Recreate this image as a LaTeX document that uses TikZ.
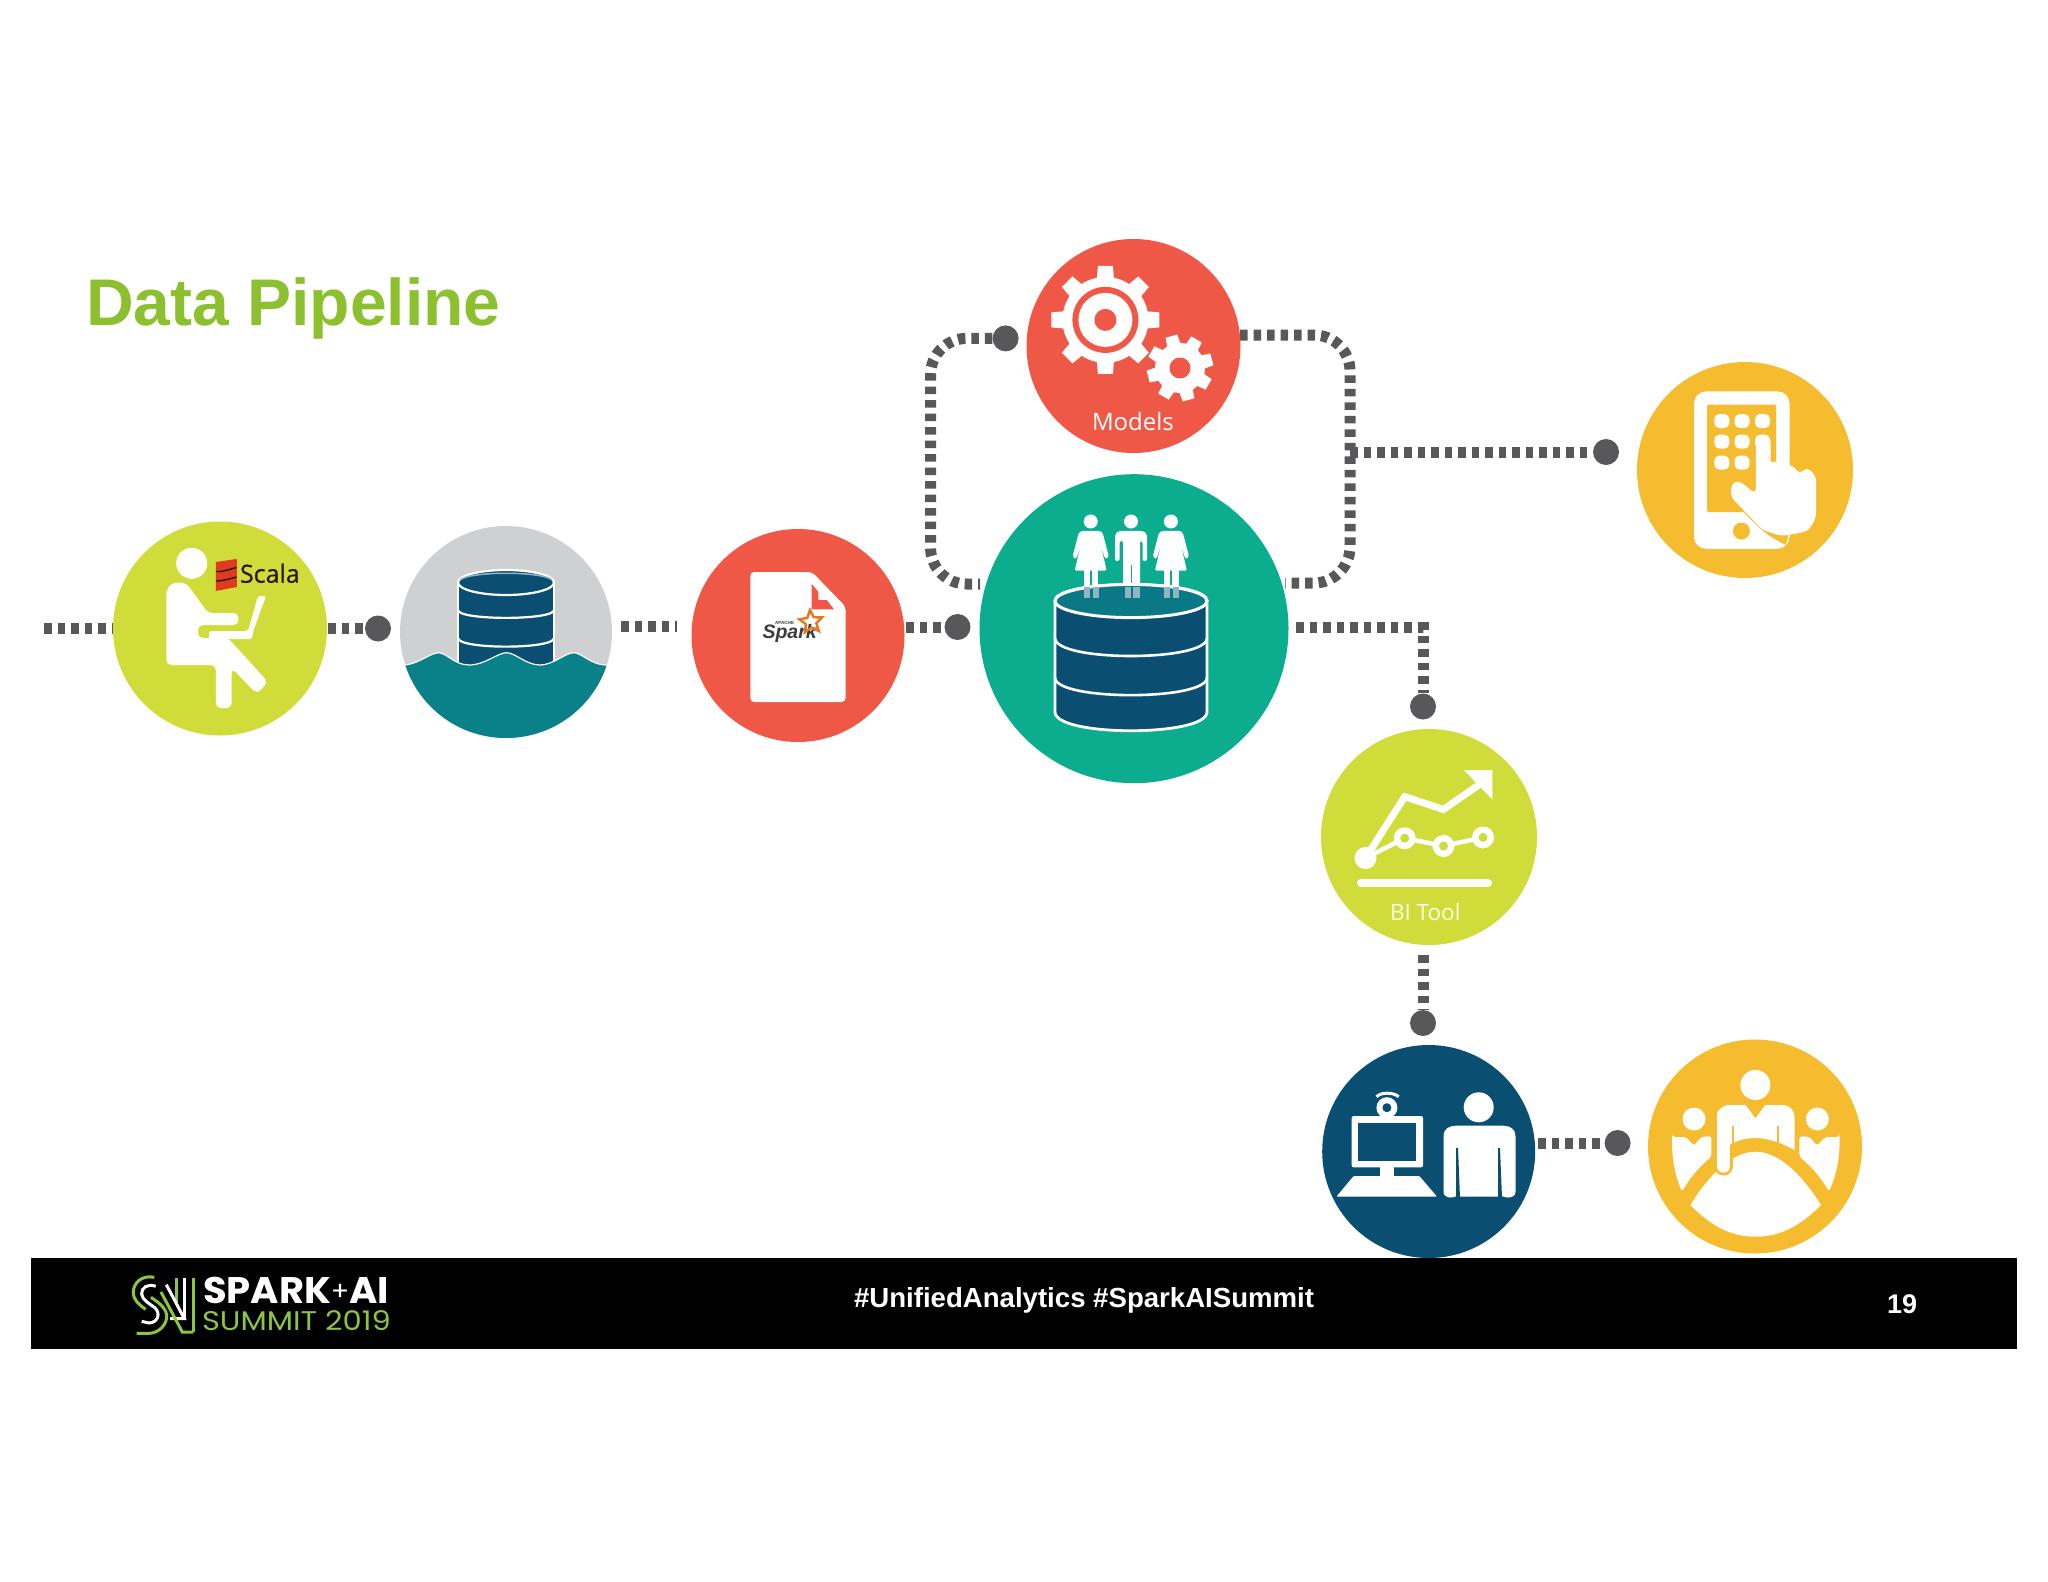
\documentclass[tikz,border=0pt]{standalone}
\usepackage{fontspec}
\setmainfont{Liberation Sans}
\newfontfamily\opensans{Open Sans}
\newfontfamily\opensansb[FakeBold=0.5]{Open Sans}
\newfontfamily\poppinsf{Poppins}
\usetikzlibrary{backgrounds}
\definecolor{lime}{HTML}{D0DC3A}
\definecolor{lakegray}{HTML}{CFD0D2}
\definecolor{water}{HTML}{0A8088}
\definecolor{redc}{HTML}{EF5847}
\definecolor{greenc}{HTML}{0CAC8E}
\definecolor{navy}{HTML}{0A4F71}
\definecolor{yellowc}{HTML}{F5BC2F}
\definecolor{linec}{HTML}{58585A}
\definecolor{titlec}{HTML}{8CC02F}
\definecolor{logog}{HTML}{8CC63F}
\definecolor{palelegs}{HTML}{8FB4C4}
\definecolor{scalared}{HTML}{DE3B20}
\definecolor{scaladark}{HTML}{2B1408}
\definecolor{sparkgray}{HTML}{3C3C3E}
\definecolor{sparkorange}{HTML}{E8761C}
\tikzset{
  bubble/.style={circle,inner sep=0pt,minimum size=#1,draw=none},
  dot/.style={circle,inner sep=0pt,minimum size=26pt,fill=linec,draw=none},
  dotline/.style={draw=linec,line width=11pt,dash pattern=on 7.5pt off 6pt},
  lab/.style={inner sep=0pt,outer sep=0pt,anchor=base west},
}
\newcommand{\mygear}[7]{%
  \begin{scope}[shift={(#1,#2)}]
    \fill[white] (0,0) circle[radius=#4];
    \foreach \a in {0,45,...,315}{
      \fill[white,rotate=\a+#6] ({-#5/2*1.15},#4-2) -- ({-#5/2},#3) -- ({#5/2},#3) -- ({#5/2*1.15},#4-2) -- cycle;
    }
  \end{scope}}
\newcommand{\womanfig}[1]{%
  \begin{scope}[shift={(#1,0)}]
    \fill[white] (0,521.5) circle[radius=7];
    \fill[white,rounded corners=1.5pt] (-9,530.8) -- (9,530.8) -- (12,533) -- (18,556) -- (16,559) -- (14,558) -- (9.5,543) -- (16,570.7) -- (-16,570.7) -- (-9.5,543) -- (-14,558) -- (-16,559) -- (-18,556) -- (-12,533) -- cycle;
    \fill[white] (-6.8,570) rectangle (-1,588);
    \fill[white] (1.5,570) rectangle (7.6,588);
  \end{scope}}
\newcommand{\manfig}[1]{%
  \begin{scope}[shift={(#1,0)}]
    \fill[white] (0,521.5) circle[radius=7];
    \fill[white,rounded corners=2pt] (-12,530.8) -- (12,530.8) -- (16,534) -- (16,561) -- (11.5,561) -- (11.5,541) -- (9,541) -- (9,588) -- (-8,588) -- (-8,541) -- (-11.5,541) -- (-11.5,561) -- (-16,561) -- (-16,534) -- cycle;
    \fill[greenc] (-0.5,565) rectangle (1,588);
  \end{scope}}
\begin{document}
\begin{tikzpicture}[x=1pt,y=-1pt]
\useasboundingbox (0,0) rectangle (2048,1582);

% ---- bubbles
\node[bubble=214pt,fill=lime]     (scala)  at (220,628.5) {};
\node[bubble=212pt,fill=lakegray] (lake)   at (506,632) {};
\node[bubble=213pt,fill=redc]     (spark)  at (798,635.5) {};
\node[bubble=309pt,fill=greenc]   (store)  at (1134,628.7) {};
\node[bubble=214pt,fill=redc]     (models) at (1133.5,346) {};
\node[bubble=216pt,fill=yellowc]  (phone)  at (1745,470) {};
\node[bubble=216pt,fill=lime]     (bi)     at (1429,837) {};
\node[bubble=213pt,fill=navy]     (analyst) at (1428.7,1151.5) {};
\node[bubble=214pt,fill=yellowc]  (meeting) at (1755,1146.5) {};

% ---- dots
\node[dot] (d1) at (378,628.5) {};
\node[dot] (d2) at (957.5,627) {};
\node[dot] (d3) at (1005.6,338.4) {};
\node[dot] (d4) at (1606,452) {};
\node[dot] (d5) at (1423,706.5) {};
\node[dot] (d6) at (1423,1023) {};
\node[dot] (d7) at (1617.6,1143) {};

% ---- free ends
\coordinate (s0) at (44,628.5);
\coordinate (s1a) at (621,626);
\coordinate (s1b) at (677,626);
\coordinate (s2) at (1296,627.5);
\coordinate (s3) at (1423,627.5);
\coordinate (s4) at (1423,955);
\coordinate (s5) at (1538,1143);
\coordinate (s6) at (1350,452);
\coordinate (s7) at (1240,335);
\coordinate (s8) at (1285,583);
\coordinate (s9) at (980,584);

\begin{pgfonlayer}{background}
  \fill[white] (0,0) rectangle (2048,1582);
  \draw[dotline] (s0) -- (scala.center |- s0);
  \draw[dotline] (scala.center |- d1) -- (d1);
  \draw[dotline] (s1a) -- (s1b);
  \draw[dotline] (spark.center |- d2) -- (d2);
  \draw[dotline,rounded corners=36pt] (d3) -- (930.6,338.4) -- (930.6,584) -- (s9);
  \draw[dotline,rounded corners=36pt] (s7) -- (1350,335) -- (1350,583) -- (s8);
  \draw[dotline] (s6) -- (d4);
  \draw[dotline] (s2) -- (s3) -- (d5);
  \draw[dotline] (s4) -- (d6);
  \draw[dotline] (s5) -- (d7);
\end{pgfonlayer}

% ---- title
\node[lab,text=titlec,font=\fontsize{66}{66}\selectfont\bfseries] (title) at (86,325) {Data Pipeline};

% ---- icon 1: developer with laptop
\fill[white] (191.7,563.3) circle[radius=15.5];
\fill[white,rounded corners=5pt] (166.4,665) -- (166.4,590) -- (172,582.7) -- (186,582.7) -- (208,613) -- (238.4,613) -- (238.4,625) -- (198,625) -- (198,638) -- (228,638) -- (268,682) -- (257,694) -- (231.7,668) -- (231.7,708) -- (215.8,708) -- (215.8,665) -- cycle;
\fill[white,rounded corners=2pt] (258,596) -- (266,596) -- (253,632) -- (252,639) -- (209,639) -- (209,631) -- (248,631) -- cycle;
\fill[scalared] (215.8,562) -- (236.8,559) -- (236.8,587) -- (215.8,591) -- cycle;
\draw[scaladark,line width=1.4pt] (216,571.5) .. controls (224,572) and (230,569) .. (236.5,567.5);
\draw[scaladark,line width=1.4pt] (216,581) .. controls (224,581) and (230,578.5) .. (236.5,577);
\node[lab,text=scaladark,font=\opensansb\fontsize{25}{25}\selectfont] (scalat) at (240,582.7) {Scala};

% ---- icon 2: data lake
\fill[navy] (458,582) -- (458,672) -- (554,672) -- (554,582) -- cycle;
\fill[navy,draw=white,line width=2.2pt] (506,582.5) ellipse[x radius=48,y radius=12.5];
\draw[palelegs,line width=1.5pt] (460,580) .. controls (470,571) and (542,571) .. (552,580);
\draw[white,line width=2.2pt] (458,610) .. controls (458,620.5) and (554,620.5) .. (554,610);
\draw[white,line width=2.2pt] (458,638) .. controls (458,649.5) and (554,649.5) .. (554,638);
\draw[white,line width=1.2pt] (458,582) -- (458,672);
\draw[white,line width=1.2pt] (554,582) -- (554,672);
\begin{scope}
  \clip (lake.center) circle[radius=106];
  \fill[water,draw=white,line width=1.2pt] (395,667) -- (405.6,665) .. controls (420,663) and (430,653) .. (439,652.7) .. controls (448,654) and (455,665) .. (469,665) .. controls (485,665) and (497,653) .. (506.5,652.7) .. controls (516,653) and (526,665) .. (540,665) .. controls (553,665) and (565,653) .. (573.7,652.7) .. controls (582,653) and (590,664) .. (605,665) -- (620,667) -- (620,745) -- (395,745) -- cycle;
\end{scope}

% ---- icon 3: spark document
\fill[white,rounded corners=4pt] (750.3,572) -- (812,572) -- (845.6,606.6) -- (845.6,702) -- (750.3,702) -- cycle;
\fill[redc] (811.7,584) -- (818.3,591.7) -- (818.3,600) -- (826.7,600) -- (834,609.3) -- (811.7,609.3) -- cycle;
\node[lab,text=sparkgray,font=\fontsize{19.5}{19.5}\selectfont\bfseries\itshape] (sparkt) at (762.5,638) {Spark};
\node[lab,text=sparkgray,font=\fontsize{4.6}{4.6}\selectfont\bfseries] (apache) at (775,624.5) {APACHE};
\draw[sparkorange,line width=2.4pt,line join=miter,shift={(811,622)}] (265:12) -- (301:5.5) -- (337:12) -- (13:5.5) -- (49:12) -- (85:5.5) -- (121:12) -- (157:5.5) -- (193:12) -- (229:5.5) -- cycle;

% ---- icon 4: people on a database
\womanfig{1090.7}
\manfig{1131}
\womanfig{1170.9}
\fill[navy,draw=white,line width=2.8pt] (1055,601) -- (1055,712) .. controls (1055,737) and (1207,737) .. (1207,712) -- (1207,601) .. controls (1207,579) and (1055,579) .. (1055,601) -- cycle;
\fill[water!85!navy,draw=white,line width=3pt] (1131,601) ellipse[x radius=76,y radius=16.6];
\foreach \xx/\wd in {1083.9/6,1092.5/6,1163.9/6,1172.5/6,1124.5/6,1132.5/7}{\fill[palelegs] (\xx,587) rectangle ++(\wd,11);}
\draw[white,line width=2.6pt] (1055,638) .. controls (1055,662) and (1207,662) .. (1207,638);
\draw[white,line width=2.6pt] (1055,677.5) .. controls (1055,701) and (1207,701) .. (1207,677.5);

% ---- icon 5: gears
\mygear{1105.4}{319.9}{54}{43}{15}{0}{white}
\fill[redc] (1105.4,319.9) circle[radius=33];
\fill[white] (1105.4,319.9) circle[radius=27];
\fill[redc] (1105.4,319.9) circle[radius=11];
\mygear{1180}{368}{33}{25}{12}{15}{white}
\fill[redc] (1180,368) circle[radius=10.5];
\node[lab,text=white,font=\opensans\fontsize{24}{24}\selectfont] (modelst) at (1092,430) {Models};

% ---- icon 6: phone
\fill[white] (1694,391.4) [rounded corners=12pt] rectangle (1789.5,548.8);
\fill[yellowc,rounded corners=2pt] (1707,404.5) rectangle (1776,512);
\foreach \xx in {1721.8,1742,1762.5}{\fill[white,rounded corners=5pt] (\xx-7.5,414) rectangle (\xx+7.5,428);}
\foreach \xx in {1721.8,1742,1762.5}{\fill[white,rounded corners=5pt] (\xx-7.5,434.6) rectangle (\xx+7.5,448.6);}
\foreach \xx in {1721.8,1742}{\fill[white,rounded corners=5pt] (\xx-7.5,455.6) rectangle (\xx+7.5,469.6);}
\fill[yellowc] (1737,505) .. controls (1752,520) and (1762,534) .. (1786,545) -- (1789.5,530) -- (1745,500) -- cycle;
\fill[white,rounded corners=5pt] (1755.8,437) -- (1770.6,437) -- (1770.6,465) -- (1777,459) -- (1786.5,466.5) -- (1792,464) -- (1799.4,474.4) -- (1806.8,467) -- (1816,476) -- (1816,508) .. controls (1816,520) and (1810,530) .. (1800,533) -- (1781,536) -- (1762.5,530) -- (1731,497) -- (1731,485) -- (1738,480) -- (1755.8,494) -- cycle;
\fill[yellowc] (1741.4,531) circle[radius=8.5];

% ---- icon 7: BI chart
\draw[white,line width=7pt,line join=miter] (1365.5,858) -- (1404.7,796.7) -- (1443.5,809.4) -- (1480,784);
\fill[white] (1492.4,770.2) -- (1463.9,770.2) -- (1492.4,799.5) -- cycle;
\draw[white,line width=4.5pt] (1365.5,858) -- (1404.7,838.2) -- (1443.5,846) -- (1483,837.4);
\fill[white] (1365.5,858) circle[radius=11];
\foreach \xx/\yy in {1404.7/838.2,1443.5/846,1483/837.4}{
  \fill[white] (\xx,\yy) circle[radius=11];
  \fill[lime] (\xx,\yy) circle[radius=4.5];
}
\draw[white,line width=8pt,line cap=round] (1361,883) -- (1488,883);
\node[lab,text=white!90!lime,font=\opensans\fontsize{22.5}{22.5}\selectfont] (bit) at (1390,920) {BI Tool};

% ---- icon 8: analyst at computer
\fill[white,rounded corners=2pt] (1351.7,1116) rectangle (1423,1167.3);
\fill[navy] (1358,1122.7) rectangle (1416.3,1161);
\fill[white] (1379.6,1167) rectangle (1393.8,1177);
\fill[white,rounded corners=1pt] (1353.6,1176) -- (1419.4,1176) -- (1437,1196.7) -- (1336.4,1196.7) -- cycle;
\fill[white] (1386.9,1107.7) circle[radius=10.5];
\fill[navy] (1386.9,1107.7) circle[radius=4.5];
\draw[white,line width=3pt] (1376.5,1096.7) .. controls (1381,1092) and (1393,1092) .. (1398.7,1096.7);
\fill[white] (1478.7,1107.3) circle[radius=15];
\fill[white] (1443.5,1192) -- (1443.5,1136) .. controls (1443.5,1129) and (1449,1125.7) .. (1456,1125.7) -- (1503,1125.7) .. controls (1510,1125.7) and (1515.5,1129) .. (1515.5,1136) -- (1515.5,1192) .. controls (1515.5,1199) and (1503,1199) .. (1500,1194) -- (1499,1196.7) -- (1459,1196.7) -- (1458,1194) .. controls (1456,1199) and (1443.5,1199) .. (1443.5,1192) -- cycle;
\fill[navy] (1456.2,1148) -- (1458,1148) -- (1460,1198) -- (1456,1198) -- cycle;
\fill[navy] (1498,1148) -- (1500,1148) -- (1502,1198) -- (1498,1198) -- cycle;

% ---- icon 9: meeting
\fill[white] (1755.4,1085) circle[radius=15];
\fill[white] (1694,1119) circle[radius=11.5];
\fill[white] (1817.4,1119) circle[radius=11.5];
\fill[white,rounded corners=3pt] (1672,1137) -- (1686,1137) -- (1694,1146) -- (1701,1137) -- (1711.4,1136) -- (1711.4,1156.7) .. controls (1698,1168) and (1690,1178) .. (1682,1191.7) .. controls (1675,1175) and (1672,1160) .. cycle;
\fill[white,rounded corners=3pt] (1839.6,1137) -- (1825,1137) -- (1817,1146) -- (1810,1137) -- (1799.4,1136) -- (1799.4,1156.7) .. controls (1813,1168) and (1821,1178) .. (1829,1191.7) .. controls (1836,1175) and (1839.6,1160) .. cycle;
\fill[white] (1717,1118) .. controls (1717,1110) and (1722,1105) .. (1730,1105) -- (1745.4,1105) -- (1755.4,1118.3) -- (1765.4,1105) -- (1782,1105) .. controls (1790,1105) and (1794.5,1110) .. (1794.5,1118) -- (1794.5,1150) .. controls (1782,1143) and (1768,1138) .. (1755.4,1138) .. controls (1745,1138) and (1735,1141) .. (1728,1146) -- cycle;
\draw[yellowc,line width=2.5pt] (1733,1126) -- (1733,1146);
\draw[yellowc,line width=2.5pt] (1778,1126) -- (1778,1146);
\fill[white] (1690.4,1205) .. controls (1712,1170) and (1735,1151.7) .. (1755.4,1151.7) .. controls (1776,1151.7) and (1799,1170) .. (1821,1205) .. controls (1800,1226) and (1780,1236.7) .. (1755.4,1236.7) .. controls (1731,1236.7) and (1711,1226) .. (1690.4,1205) -- cycle;
\draw[yellowc,line width=19pt,line cap=round] (1723.7,1155) -- (1723.7,1166);
\draw[white,line width=13.5pt,line cap=round] (1723.7,1115) -- (1723.7,1166);

% ---- footer
\fill[black] (31,1258) rectangle (2017,1349);
\begin{scope}[shift={(125,1268)},x=0.33333pt,y=-0.33333pt,line cap=butt]
  \draw[logog,line width=3pt] (88,28) .. controls (50,20) and (24,45) .. (25,75) .. controls (26,98) and (45,112) .. (62,124);
  \draw[white,line width=3pt] (92,55) .. controls (70,46) and (48,58) .. (50,78) .. controls (52,96) and (72,106) .. (88,118) .. controls (108,134) and (100,164) .. (72,165) -- (50,160);
  \draw[logog,line width=3pt] (78,88) .. controls (95,100) and (120,115) .. (125,140) .. controls (128,170) and (100,196) .. (72,196) -- (35,196);
  \draw[logog,line width=3pt] (205,30) -- (205,192);
  \draw[white,line width=3pt] (178,30) -- (178,152);
  \draw[logog,line width=3pt] (154,30) -- (154,110);
  \draw[white,line width=3pt] (124,50) -- (178,152) -- (135,152);
  \draw[logog,line width=3pt] (108,72) -- (172,192) -- (205,192);
\end{scope}
\node[lab,text=white,font=\poppinsf\bfseries\fontsize{37}{37}\selectfont] (sparkai) at (203,1303) {\scalebox{1.04}[1]{SPARK\raisebox{3pt}{\fontsize{26}{26}\selectfont\mdseries+}AI}};
\node[lab,text=logog,font=\poppinsf\fontsize{27}{27}\selectfont] (summit) at (202,1330.7) {\scalebox{1.13}[1]{SUMMIT 2019}};
\node[lab,text=white,font=\fontsize{27.6}{27.6}\selectfont\bfseries] (tags) at (854,1307) {\#UnifiedAnalytics \#SparkAISummit};
\node[lab,text=white,font=\fontsize{27}{27}\selectfont\bfseries] (pageno) at (1887,1313) {19};
\end{tikzpicture}
\end{document}
